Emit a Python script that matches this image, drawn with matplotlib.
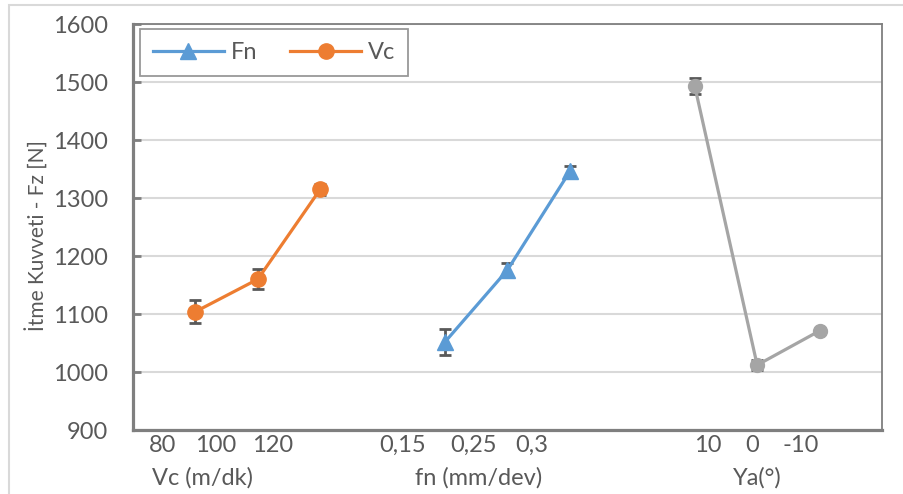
import matplotlib.pyplot as plt
from matplotlib.patches import Rectangle
from matplotlib.lines import Line2D

plt.rcParams['font.family'] = ['Lato', 'DejaVu Sans']

# data
vc_x = [1, 2, 3]
vc_y = [1104, 1160, 1315]
vc_err = [20, 17, 10]

fn_x = [5, 6, 7]
fn_y = [1052, 1176, 1346]
fn_err = [22, 12, 10]

ya_x = [9, 10, 11]
ya_y = [1493, 1012, 1071]
ya_err = [14, 8, 3]

tick_labels = ['80', '100', '120', '0,15', '0,25', '0,3', '10', '0', '-10']
tick_pos = [0.48, 1.32, 2.23, 4.32, 5.46, 6.39, 9.21, 9.92, 10.7]
group_labels = ['Vc (m/dk)', 'fn (mm/dev)', 'Ya(°)']
group_pos = [1.12, 5.53, 10.0]

fig = plt.figure(figsize=(9.04, 4.94), dpi=100)
ax = fig.add_axes([133/904, 1-430/494, 749/904, 406/494])

# outer chart frame
fig.patches.append(Rectangle((9/904, -0.1), 1.2, 1-5/494+0.1, transform=fig.transFigure,
                             fill=False, ec='#d9d9d9', lw=1.5))

ecol = '#595959'
ax.errorbar(vc_x, vc_y, yerr=vc_err, color='#ED7D31', lw=2.3, marker='o', ms=11,
            ecolor=ecol, elinewidth=2, capsize=4.5, capthick=2, zorder=3)
ax.errorbar(fn_x, fn_y, yerr=fn_err, color='#5B9BD5', lw=2.3, marker='^', ms=12,
            ecolor=ecol, elinewidth=2, capsize=4.5, capthick=2, zorder=3)
ax.errorbar(ya_x, ya_y, yerr=ya_err, color='#A5A5A5', lw=2.3, marker='o', ms=10,
            ecolor=ecol, elinewidth=2, capsize=4.5, capthick=2, zorder=3)

ax.set_xlim(0, 12)
ax.set_ylim(900, 1600)
ax.set_yticks(range(900, 1601, 100))
ax.yaxis.grid(True, color='#d9d9d9', lw=1.5)
ax.set_axisbelow(True)
ax.tick_params(axis='y', direction='in', length=6, width=2, color='#7f7f7f',
               labelsize=17, labelcolor='#595959', pad=18)
ax.set_xticks([])
for s in ['left', 'bottom']:
    ax.spines[s].set_color('#7f7f7f')
    ax.spines[s].set_linewidth(2.3)
for s in ['top', 'right']:
    ax.spines[s].set_color('#7f7f7f')
    ax.spines[s].set_linewidth(1.3)

tr = ax.get_xaxis_transform()
for p, t in zip(tick_pos, tick_labels):
    ax.text(p, -0.037, t, transform=tr, ha='center', va='center', fontsize=17, color='#595959')
for p, t in zip(group_pos, group_labels):
    ax.text(p, -0.118, t, transform=tr, ha='center', va='center', fontsize=17, color='#595959')

ax.set_ylabel('İtme Kuvveti - Fz [N]', fontsize=15, color='#595959')
ax.yaxis.set_label_coords(-0.112, 0.48)

handles = [Line2D([], [], color='#5B9BD5', lw=2.3, marker='^', ms=12),
           Line2D([], [], color='#ED7D31', lw=2.3, marker='o', ms=11)]
leg = ax.legend(handles, ['Fn', 'Vc'], loc='upper left', ncol=2, fontsize=17,
                frameon=True, fancybox=False, edgecolor='#7f7f7f', handlelength=3.0,
                handletextpad=0.3, columnspacing=1.4, borderpad=0.55, borderaxespad=0,
                bbox_to_anchor=(0.009, 0.988))
leg.get_frame().set_linewidth(1.3)
for t in leg.get_texts():
    t.set_color('#595959')

fig.savefig('out.png', dpi=100)
